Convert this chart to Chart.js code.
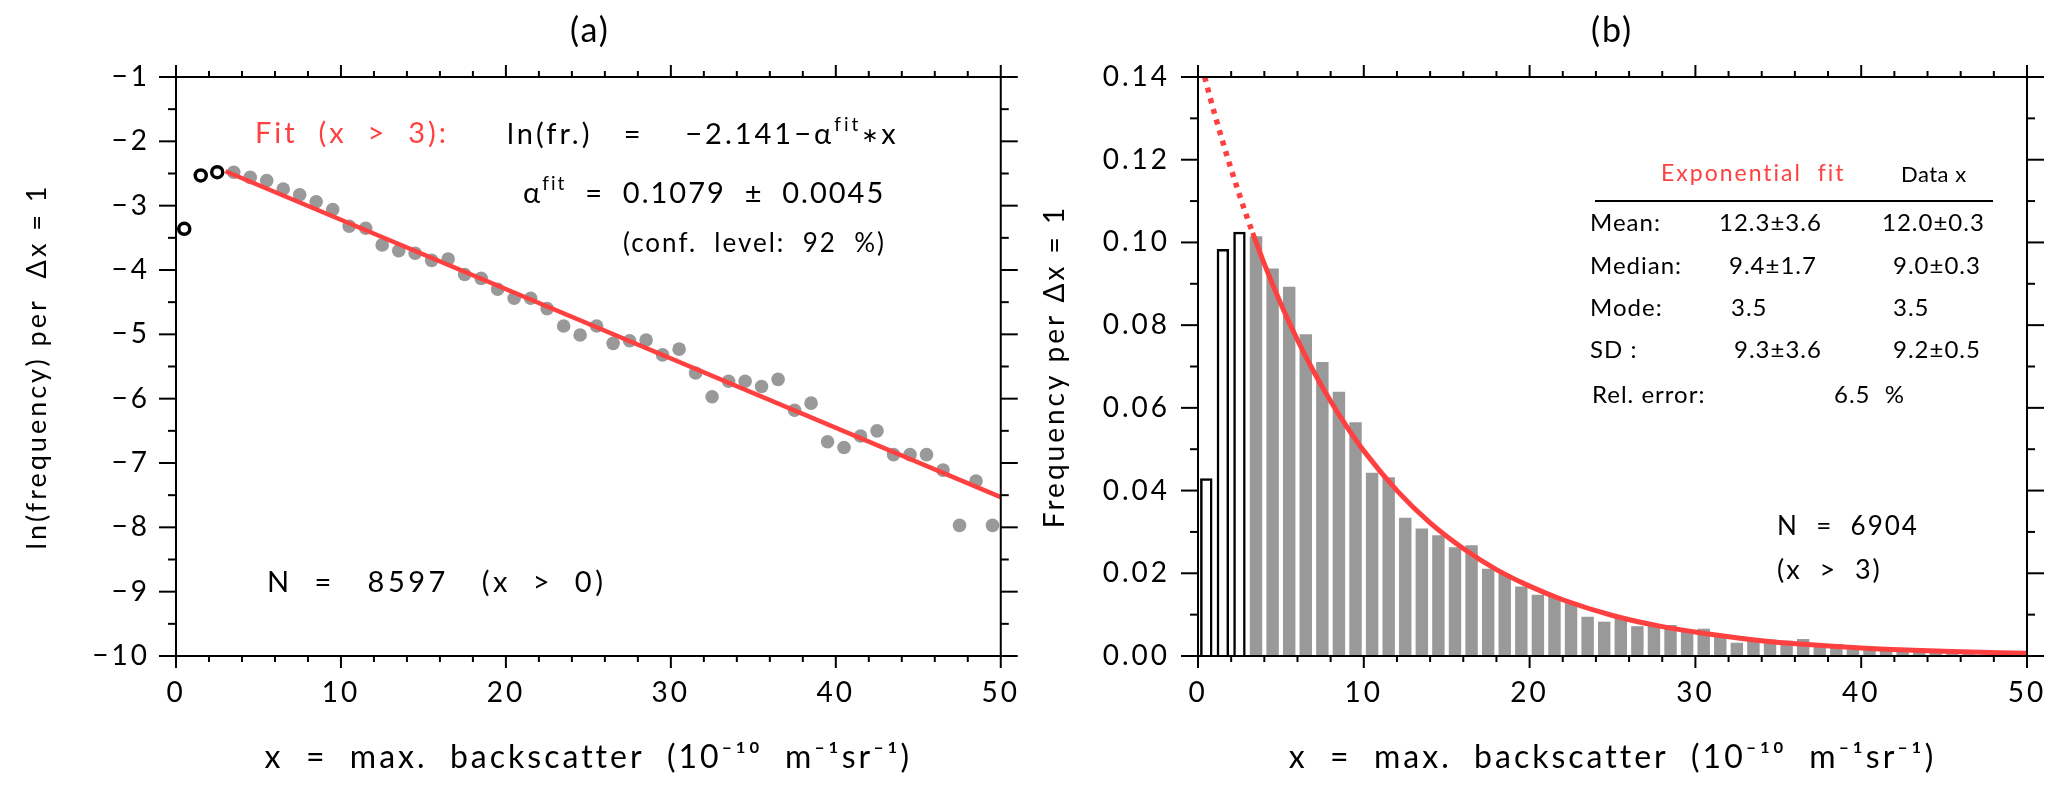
<!DOCTYPE html>
<html><head><meta charset="utf-8">
<script src="https://cdn.jsdelivr.net/npm/chart.js@4.4.1/dist/chart.umd.min.js"></script>
<style>
html,body{margin:0;padding:0;background:#fff;}
#wrap{position:relative;width:2067px;height:792px;overflow:hidden;font-family:Lato,"DejaVu Sans",sans-serif;color:#000;}
canvas{position:absolute;top:0;}
#cA{left:0;}
#cB{left:1020px;}
.t{position:absolute;white-space:pre;line-height:1;letter-spacing:2px;}
.red{color:#ff4040;}
sup{font-size:0.66em;vertical-align:0;position:relative;top:-0.7em;}
.ast{font-size:0.7em;position:relative;top:-0.08em;}
.hr{position:absolute;background:#000;height:2px;}
.tb{font-size:24px;letter-spacing:1px;}
</style></head><body>
<div id="wrap">
<canvas id="cA" width="1040" height="792"></canvas>
<canvas id="cB" width="1047" height="792"></canvas>

<div class="t" style="left:590px;top:12px;font-size:34px;transform:translateX(-50%);">(a)</div>
<div class="t" style="left:1612px;top:12px;font-size:34px;transform:translateX(-50%);">(b)</div>

<div class="t red" style="left:255px;top:117px;font-size:29px;letter-spacing:3px;">Fit  (x  &gt;  3):</div>
<div class="t" style="left:507px;top:118px;font-size:29px;letter-spacing:3px;">ln(fr.)   =    −2.141−α<sup>fit</sup><span class="ast">∗</span>x</div>
<div class="t" style="left:523px;top:177px;font-size:29px;">α<sup>fit</sup>  =  0.1079  ±  0.0045</div>
<div class="t" style="left:623px;top:229px;font-size:26px;letter-spacing:2px;">(conf.  level:  92  %)</div>
<div class="t" style="left:267px;top:566px;font-size:29px;letter-spacing:3.5px;">N  =   8597   (x  &gt;  0)</div>

<div class="t red" style="left:1661px;top:161px;font-size:23px;">Exponential  fit</div>
<div class="t" style="left:1901px;top:163px;font-size:22px;letter-spacing:0.5px;">Data x</div>
<div class="hr" style="left:1595px;top:200px;width:398px;"></div>
<div class="t tb" style="left:1590px;top:210px;">Mean:</div>
<div class="t tb" style="left:1719px;top:210px;">12.3±3.6</div>
<div class="t tb" style="left:1882px;top:210px;">12.0±0.3</div>
<div class="t tb" style="left:1590px;top:253px;">Median:</div>
<div class="t tb" style="left:1729px;top:253px;">9.4±1.7</div>
<div class="t tb" style="left:1893px;top:253px;">9.0±0.3</div>
<div class="t tb" style="left:1590px;top:295px;">Mode:</div>
<div class="t tb" style="left:1731px;top:295px;">3.5</div>
<div class="t tb" style="left:1893px;top:295px;">3.5</div>
<div class="t tb" style="left:1590px;top:337px;">SD :</div>
<div class="t tb" style="left:1734px;top:337px;">9.3±3.6</div>
<div class="t tb" style="left:1893px;top:337px;">9.2±0.5</div>
<div class="t tb" style="left:1592px;top:382px;">Rel. error:</div>
<div class="t tb" style="left:1834px;top:382px;">6.5  %</div>
<div class="t" style="left:1777px;top:512px;font-size:26px;">N  =  6904</div>
<div class="t" style="left:1777px;top:555px;font-size:27px;">(x  &gt;  3)</div>
</div>

<script>
// ---------- data ----------
const openBinCentres = [0.5, 1.5, 2.5];
const fitBinCentres = [3.5, 4.5, 5.5, 6.5, 7.5, 8.5, 9.5, 10.5, 11.5, 12.5, 13.5, 14.5, 15.5, 16.5, 17.5, 18.5, 19.5, 20.5, 21.5, 22.5, 23.5, 24.5, 25.5, 26.5, 27.5, 28.5, 29.5, 30.5, 31.5, 32.5, 33.5, 34.5, 35.5, 36.5, 37.5, 38.5, 39.5, 40.5, 41.5, 42.5, 43.5, 44.5, 45.5, 46.5, 47.5, 48.5, 49.5];

// panel (a): ln(frequency) per bin
const lnFreqOpen = [-3.36, -2.53, -2.48];
const lnFreqFit = [-2.48, -2.56, -2.61, -2.74, -2.83, -2.94, -3.06, -3.32, -3.35, -3.61, -3.70, -3.74, -3.85, -3.83, -4.07, -4.13, -4.30, -4.44, -4.44, -4.60, -4.87, -5.01, -4.87, -5.14, -5.10, -5.09, -5.32, -5.23, -5.60, -5.97, -5.73, -5.73, -5.81, -5.70, -6.18, -6.07, -6.67, -6.76, -6.58, -6.50, -6.87, -6.87, -6.87, -7.11, -7.97, -7.28, -7.97];
const fitLineX = [3, 50];
const fitLineLn = [-2.465, -7.53];

// panel (b): frequency per bin
const freqOpen = [0.0430, 0.0984, 0.1026];
const freqFit = [0.1015, 0.0937, 0.0893, 0.0778, 0.0711, 0.0639, 0.0565, 0.0443, 0.0432, 0.0334, 0.0308, 0.0292, 0.0263, 0.0268, 0.0211, 0.0198, 0.0168, 0.0148, 0.0145, 0.0128, 0.0095, 0.0083, 0.0093, 0.0072, 0.0075, 0.0075, 0.0060, 0.0066, 0.0046, 0.0032, 0.0040, 0.0040, 0.0037, 0.0041, 0.0026, 0.0029, 0.0016, 0.0014, 0.0017, 0.0019, 0.0013, 0.0013, 0.0013, 0.0010, 0.0004, 0.0009, 0.0004];
const expCurveDottedX = [0.4, 1, 2, 3, 3.3];
const expCurveDottedY = [0.1400, 0.1311, 0.1177, 0.1056, 0.1023];
const expCurveX = [3.3, 4, 5, 6, 7, 8, 9, 10, 12, 14, 16, 18, 20, 22, 25, 28, 31, 34, 37, 40, 45, 50];
const expCurveY = [0.1023, 0.0948, 0.0851, 0.0764, 0.0686, 0.0616, 0.0553, 0.0496, 0.0400, 0.0322, 0.0260, 0.0209, 0.0169, 0.0136, 0.0098, 0.0071, 0.0052, 0.0037, 0.0027, 0.00195, 0.00114, 0.00066];

// ticks
const xTickValues = [0, 10, 20, 30, 40, 50];
const xTickLabels = ['0', '10', '20', '30', '40', '50'];
const lnTickValues = [-10, -9, -8, -7, -6, -5, -4, -3, -2, -1];
const lnTickLabels = ['\u221210', '\u22129', '\u22128', '\u22127', '\u22126', '\u22125', '\u22124', '\u22123', '\u22122', '\u22121'];
const freqTickValues = [0, 0.02, 0.04, 0.06, 0.08, 0.10, 0.12, 0.14];
const freqTickLabels = ['0.00', '0.02', '0.04', '0.06', '0.08', '0.10', '0.12', '0.14'];

const xTitle = 'x  =  max.  backscatter  (10\u207B\u00B9\u2070  m\u207B\u00B9sr\u207B\u00B9)';
const lnTitle = 'ln(frequency) per  \u0394x = 1';
const freqTitle = 'Frequency per \u0394x = 1';

// ---------- styles ----------
const RED = '#ff4040', GREY = '#999999', FONT = 'Lato, "DejaVu Sans", sans-serif';

const spacingPlugin = {
  id: 'spacing',
  beforeLayout(chart) { chart.ctx.letterSpacing = '3px'; },
  beforeDraw(chart) { chart.ctx.letterSpacing = '3px'; }
};

const framePlugin = {
  id: 'frame',
  afterDraw(chart, args, o) {
    const {ctx, chartArea: a, scales: {x, y}} = chart;
    ctx.save();
    ctx.strokeStyle = '#000';
    ctx.lineWidth = 2;
    ctx.lineCap = 'square';
    ctx.strokeRect(a.left, a.top, a.right - a.left, a.bottom - a.top);
    const seg = (x1, y1, x2, y2) => { ctx.beginPath(); ctx.moveTo(x1, y1); ctx.lineTo(x2, y2); ctx.stroke(); };
    ctx.lineCap = 'butt';
    let n = Math.round((x.max - x.min) / o.xStep), r = Math.round(o.xMajor / o.xStep);
    for (let i = 0; i <= n; i++) {
      const px = x.getPixelForValue(x.min + i * o.xStep);
      const len = (i % r === 0) ? o.xLen[0] : o.xLen[1];
      seg(px, a.bottom, px, a.bottom + len);
      seg(px, a.top, px, a.top - len);
    }
    n = Math.round((y.max - y.min) / o.yStep); r = Math.round(o.yMajor / o.yStep);
    for (let i = 0; i <= n; i++) {
      const py = y.getPixelForValue(y.min + i * o.yStep);
      const len = (i % r === 0) ? o.yLen[0] : o.yLen[1];
      seg(a.left - len, py, a.left, py);
      seg(a.right, py, a.right + len, py);
    }
    ctx.restore();
  }
};

function xScale() {
  return {
    type: 'linear', min: 0, max: 50, offset: false,
    afterBuildTicks: s => { s.ticks = xTickValues.map(v => ({value: v})); },
    afterFit: s => { s.height = 136; },
    grid: {display: false, drawTicks: false}, border: {display: false},
    ticks: {padding: 20, color: '#000', font: {family: FONT, size: 28}, autoSkip: false, maxRotation: 0,
            callback: (v, i) => xTickLabels[i]},
    title: {display: true, text: xTitle, color: '#000', font: {family: FONT, size: 32}, padding: {top: 0, bottom: 15}}
  };
}

const common = {
  responsive: false, animation: false, devicePixelRatio: 1,
  plugins: {legend: {display: false}, tooltip: {enabled: false}}
};

// ---------- panel (a) ----------
new Chart(document.getElementById('cA'), {
  type: 'scatter',
  data: {datasets: [
    {type: 'line', data: fitLineX.map((x, i) => ({x, y: fitLineLn[i]})), borderColor: RED, borderWidth: 4.5, pointRadius: 0, fill: false},
    {data: openBinCentres.map((x, i) => ({x, y: lnFreqOpen[i]})), pointRadius: 5.5, pointBorderWidth: 3.5,
     pointBorderColor: '#000', pointBackgroundColor: '#fff'},
    {data: fitBinCentres.map((x, i) => ({x, y: lnFreqFit[i]})), pointRadius: 6.8, pointBorderWidth: 0,
     pointBackgroundColor: GREY, pointBorderColor: GREY}
  ]},
  options: Object.assign({}, common, {
    layout: {padding: {left: 0, top: 77, right: 35, bottom: 0}},
    plugins: Object.assign({}, common.plugins, {frame: {xStep: 2, xMajor: 10, yStep: 0.5, yMajor: 1, xLen: [12, 6], yLen: [17, 8]}}),
    scales: {
      x: xScale(),
      y: {
        type: 'linear', min: -10, max: -1,
        afterBuildTicks: s => { s.ticks = lnTickValues.map(v => ({value: v})); },
        afterFit: s => { s.width = 176; },
        grid: {display: false, drawTicks: false}, border: {display: false},
        ticks: {padding: 26, color: '#000', font: {family: FONT, size: 28}, autoSkip: false,
                callback: (v, i) => lnTickLabels[i]},
        title: {display: true, text: lnTitle, color: '#000', font: {family: FONT, size: 27}, padding: {top: 21, bottom: 0}}
      }
    }
  }),
  plugins: [spacingPlugin, framePlugin]
});

// ---------- panel (b) ----------
new Chart(document.getElementById('cB'), {
  type: 'bar',
  data: {datasets: [
    {type: 'line', data: expCurveX.map((x, i) => ({x, y: expCurveY[i]})), borderColor: RED, borderWidth: 5,
     pointRadius: 0, cubicInterpolationMode: 'monotone', fill: false},
    {type: 'line', data: expCurveDottedX.map((x, i) => ({x, y: expCurveDottedY[i]})), borderColor: RED, borderWidth: 5.5,
     borderDash: [5, 6], pointRadius: 0, cubicInterpolationMode: 'monotone', fill: false},
    {type: 'bar', data: openBinCentres.map((x, i) => ({x, y: freqOpen[i]})), backgroundColor: 'rgba(255,255,255,0)',
     borderColor: '#000', borderWidth: 2.5, grouped: false, barPercentage: 0.75, categoryPercentage: 1},
    {type: 'bar', data: fitBinCentres.map((x, i) => ({x, y: freqFit[i]})), backgroundColor: GREY,
     borderWidth: 0, grouped: false, barPercentage: 0.75, categoryPercentage: 1}
  ]},
  options: Object.assign({}, common, {
    layout: {padding: {left: 0, top: 77, right: 40, bottom: 0}},
    plugins: Object.assign({}, common.plugins, {frame: {xStep: 2, xMajor: 10, yStep: 0.01, yMajor: 0.02, xLen: [12, 6], yLen: [17, 8]}}),
    scales: {
      x: xScale(),
      y: {
        type: 'linear', min: 0, max: 0.14,
        afterBuildTicks: s => { s.ticks = freqTickValues.map(v => ({value: v})); },
        afterFit: s => { s.width = 178; },
        grid: {display: false, drawTicks: false}, border: {display: false},
        ticks: {padding: 28, color: '#000', font: {family: FONT, size: 28}, autoSkip: false,
                callback: (v, i) => freqTickLabels[i]},
        title: {display: true, text: freqTitle, color: '#000', font: {family: FONT, size: 28}, padding: {top: 18, bottom: 0}}
      }
    }
  }),
  plugins: [spacingPlugin, framePlugin]
});
</script>
</body></html>
